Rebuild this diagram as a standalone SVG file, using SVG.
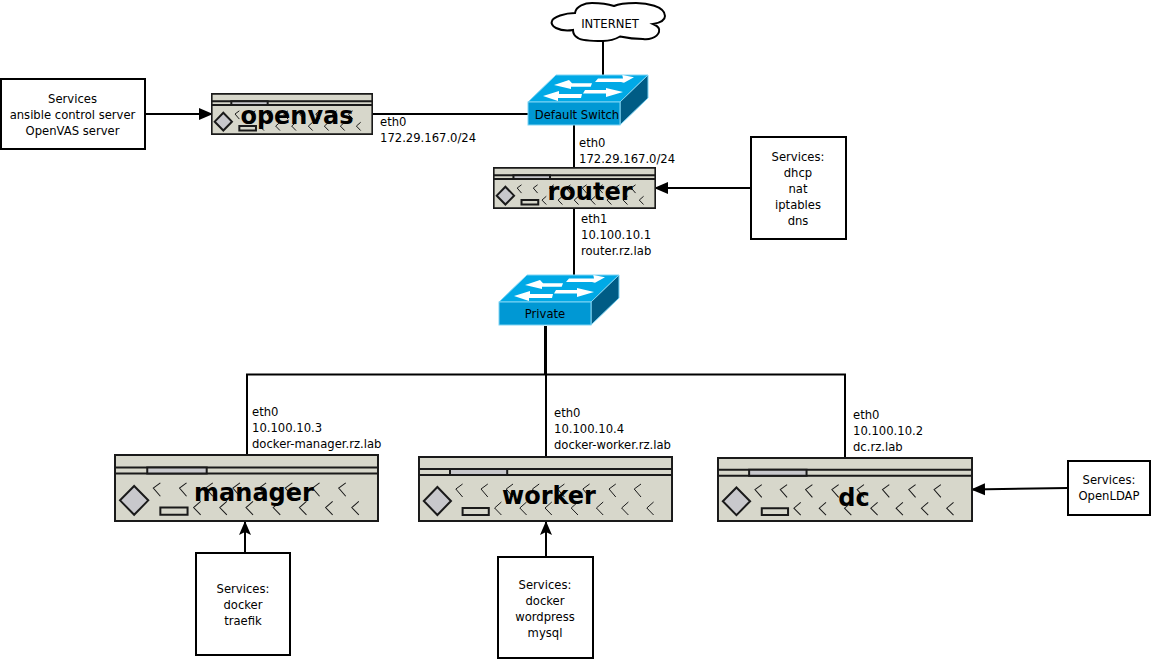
<svg xmlns="http://www.w3.org/2000/svg" width="1151" height="659" viewBox="0 0 1151 659">
<style>
text{font-family:"DejaVu Sans",sans-serif;font-size:11.6px;fill:#000;text-anchor:middle}
.l{text-anchor:start}
.n{font-size:24px;font-weight:bold}
.c{fill:none;stroke:#000;stroke-width:2}
.a{marker-end:url(#ah)}
.d{marker-end:url(#ac)}
.b{fill:#fff;stroke:#000;stroke-width:2}
.s1{fill:#d7d7cb;stroke:#1a1a1a;stroke-width:2;vector-effect:non-scaling-stroke}
.s2{fill:#c8c8cc;stroke:#1a1a1a;stroke-width:2;vector-effect:non-scaling-stroke}
.s3{fill:none;stroke:#1a1a1a;stroke-width:1;vector-effect:non-scaling-stroke}
</style>
<defs>
<marker id="ah" markerUnits="userSpaceOnUse" markerWidth="14" markerHeight="14" refX="13" refY="7" orient="auto"><path d="M0 1L14 7L0 13Z" fill="#000"/></marker>
<marker id="ac" markerUnits="userSpaceOnUse" markerWidth="15" markerHeight="14" refX="14" refY="7" orient="auto"><path d="M0 1L14 7L0 13L3 7Z" fill="#000"/></marker>
<symbol id="dev" viewBox="0 0 263 66" preserveAspectRatio="none">
<rect class="s1" x="1" y="1" width="261" height="64"/>
<path class="s1" d="M1 13H262V19H1Z"/>
<rect class="s2" x="33" y="13" width="59" height="6"/>
<path class="s2" d="M20 31L34 45L20 59L6 45Z"/>
<rect class="s1" x="46" y="52" width="27" height="7"/>
<path class="s3" d="M46 28L39 33L46 41M72 28L65 33L72 41M98 28L91 33L98 41M125 28L118 33L125 41M151 28L144 33L151 41M177 28L170 33L177 41M204 28L197 33L204 41M230 28L223 33L230 41M86 46L79 52L86 59M112 46L105 52L112 59M138 46L131 52L138 59M165 46L158 52L165 59M191 46L184 52L191 59M217 46L210 52L217 59M243 46L236 52L243 59"/>
</symbol>
<g id="sw">
<path d="M0 27L28 0H120L92 27Z" fill="#00a9e6" stroke="#7fd4f4"/>
<path d="M92 27L120 0V23L92 50Z" fill="#005c85" stroke="#7fd4f4"/>
<rect x="0" y="27" width="92" height="23" fill="#0098d4" stroke="#7fd4f4"/>
<path d="M26 10L41 5L44 8.300H64L62.700 11.700H43L43 14ZM106 2.300L94.300 0L95 3.500H70L67 7H93L96 7.700ZM15 21L31 16L31 19H54L53 23H30L30 26ZM95 17L78 13L78 15H57L55 18.500H78L78 22Z" fill="#fff"/>
</g>
</defs>
<g id="connectors">
<path class="c" d="M603 41V75"/>
<path class="c" d="M372 114H528"/>
<path class="c" d="M574 125V168"/>
<path class="c" d="M574 208V275"/>
<path class="c" d="M545 326V375M247 455V374.500H845V458M546 326V457"/>
<path class="c a" d="M145 114H212"/>
<path class="c a" d="M751 188H655"/>
<path class="c a" d="M1068 488L972 489.500"/>
<path class="c d" d="M245 553V521"/>
<path class="c d" d="M546 557V521"/>
</g>
<g id="internet">
<path d="M575 13C576 6 585 3 592 3C600 3 608 4 614 6C620 3 630 3 636 3C646 3 665 6 665 16C665 21 659 23 653 24C658 26 660 29 659 32C657 38 648 40 643 39C635 39 627 38 620 36.500C614 40 608 41 603 41C592 41 582 41 578 38C574 36 573 33 573 30C567 31 560 30 556 28C552 26 551 23 552 21C553 17 565 13 575 13Z" fill="#fff" stroke="#000" stroke-width="2"/>
<text x="610" y="28">INTERNET</text>
</g>
<g id="default-switch"><use href="#sw" x="528" y="75"/><text x="577" y="118.500">Default Switch</text></g>
<g id="private-switch"><use href="#sw" x="499" y="275"/><text x="545" y="318">Private</text></g>
<g id="openvas"><use href="#dev" x="211" y="93" width="162" height="42"/><text class="n" x="297" y="124">openvas</text></g>
<g id="router"><use href="#dev" x="493" y="167" width="163" height="42"/><text class="n" x="590" y="200">router</text></g>
<g id="manager"><use href="#dev" x="114" y="454" width="265" height="68"/><text class="n" x="254" y="501">manager</text></g>
<g id="worker"><use href="#dev" x="418" y="456" width="255" height="66"/><text class="n" x="549" y="504">worker</text></g>
<g id="dc"><use href="#dev" x="717" y="457" width="256" height="65"/><text class="n" x="854" y="506">dc</text></g>
<g id="svc-openvas"><rect class="b" x="1" y="79" width="144" height="70"/><text x="72.500" y="103">Services</text><text x="72.500" y="119">ansible control server</text><text x="72.500" y="135">OpenVAS server</text></g>
<g id="svc-router"><rect class="b" x="751" y="137" width="95" height="102"/><text x="798" y="161">Services:</text><text x="798" y="177">dhcp</text><text x="798" y="193">nat</text><text x="798" y="209">iptables</text><text x="798" y="225">dns</text></g>
<g id="svc-dc"><rect class="b" x="1068" y="461" width="82" height="54"/><text x="1109" y="484">Services:</text><text x="1109" y="500">OpenLDAP</text></g>
<g id="svc-manager"><rect class="b" x="196" y="553" width="94" height="102"/><text x="243" y="593">Services:</text><text x="243" y="609">docker</text><text x="243" y="625">traefik</text></g>
<g id="svc-worker"><rect class="b" x="498" y="557" width="95" height="101"/><text x="545" y="589">Services:</text><text x="545" y="605">docker</text><text x="545" y="621">wordpress</text><text x="545" y="637">mysql</text></g>
<g id="labels">
<text class="l" x="380" y="126">eth0</text><text class="l" x="380" y="142">172.29.167.0/24</text>
<text class="l" x="579" y="147">eth0</text><text class="l" x="579" y="163">172.29.167.0/24</text>
<text class="l" x="581" y="223">eth1</text><text class="l" x="581" y="239">10.100.10.1</text><text class="l" x="581" y="255">router.rz.lab</text>
<text class="l" x="252" y="416">eth0</text><text class="l" x="252" y="432">10.100.10.3</text><text class="l" x="252" y="448">docker-manager.rz.lab</text>
<text class="l" x="554" y="417">eth0</text><text class="l" x="554" y="433">10.100.10.4</text><text class="l" x="554" y="449">docker-worker.rz.lab</text>
<text class="l" x="853" y="419">eth0</text><text class="l" x="853" y="435">10.100.10.2</text><text class="l" x="853" y="451">dc.rz.lab</text>
</g>
</svg>
